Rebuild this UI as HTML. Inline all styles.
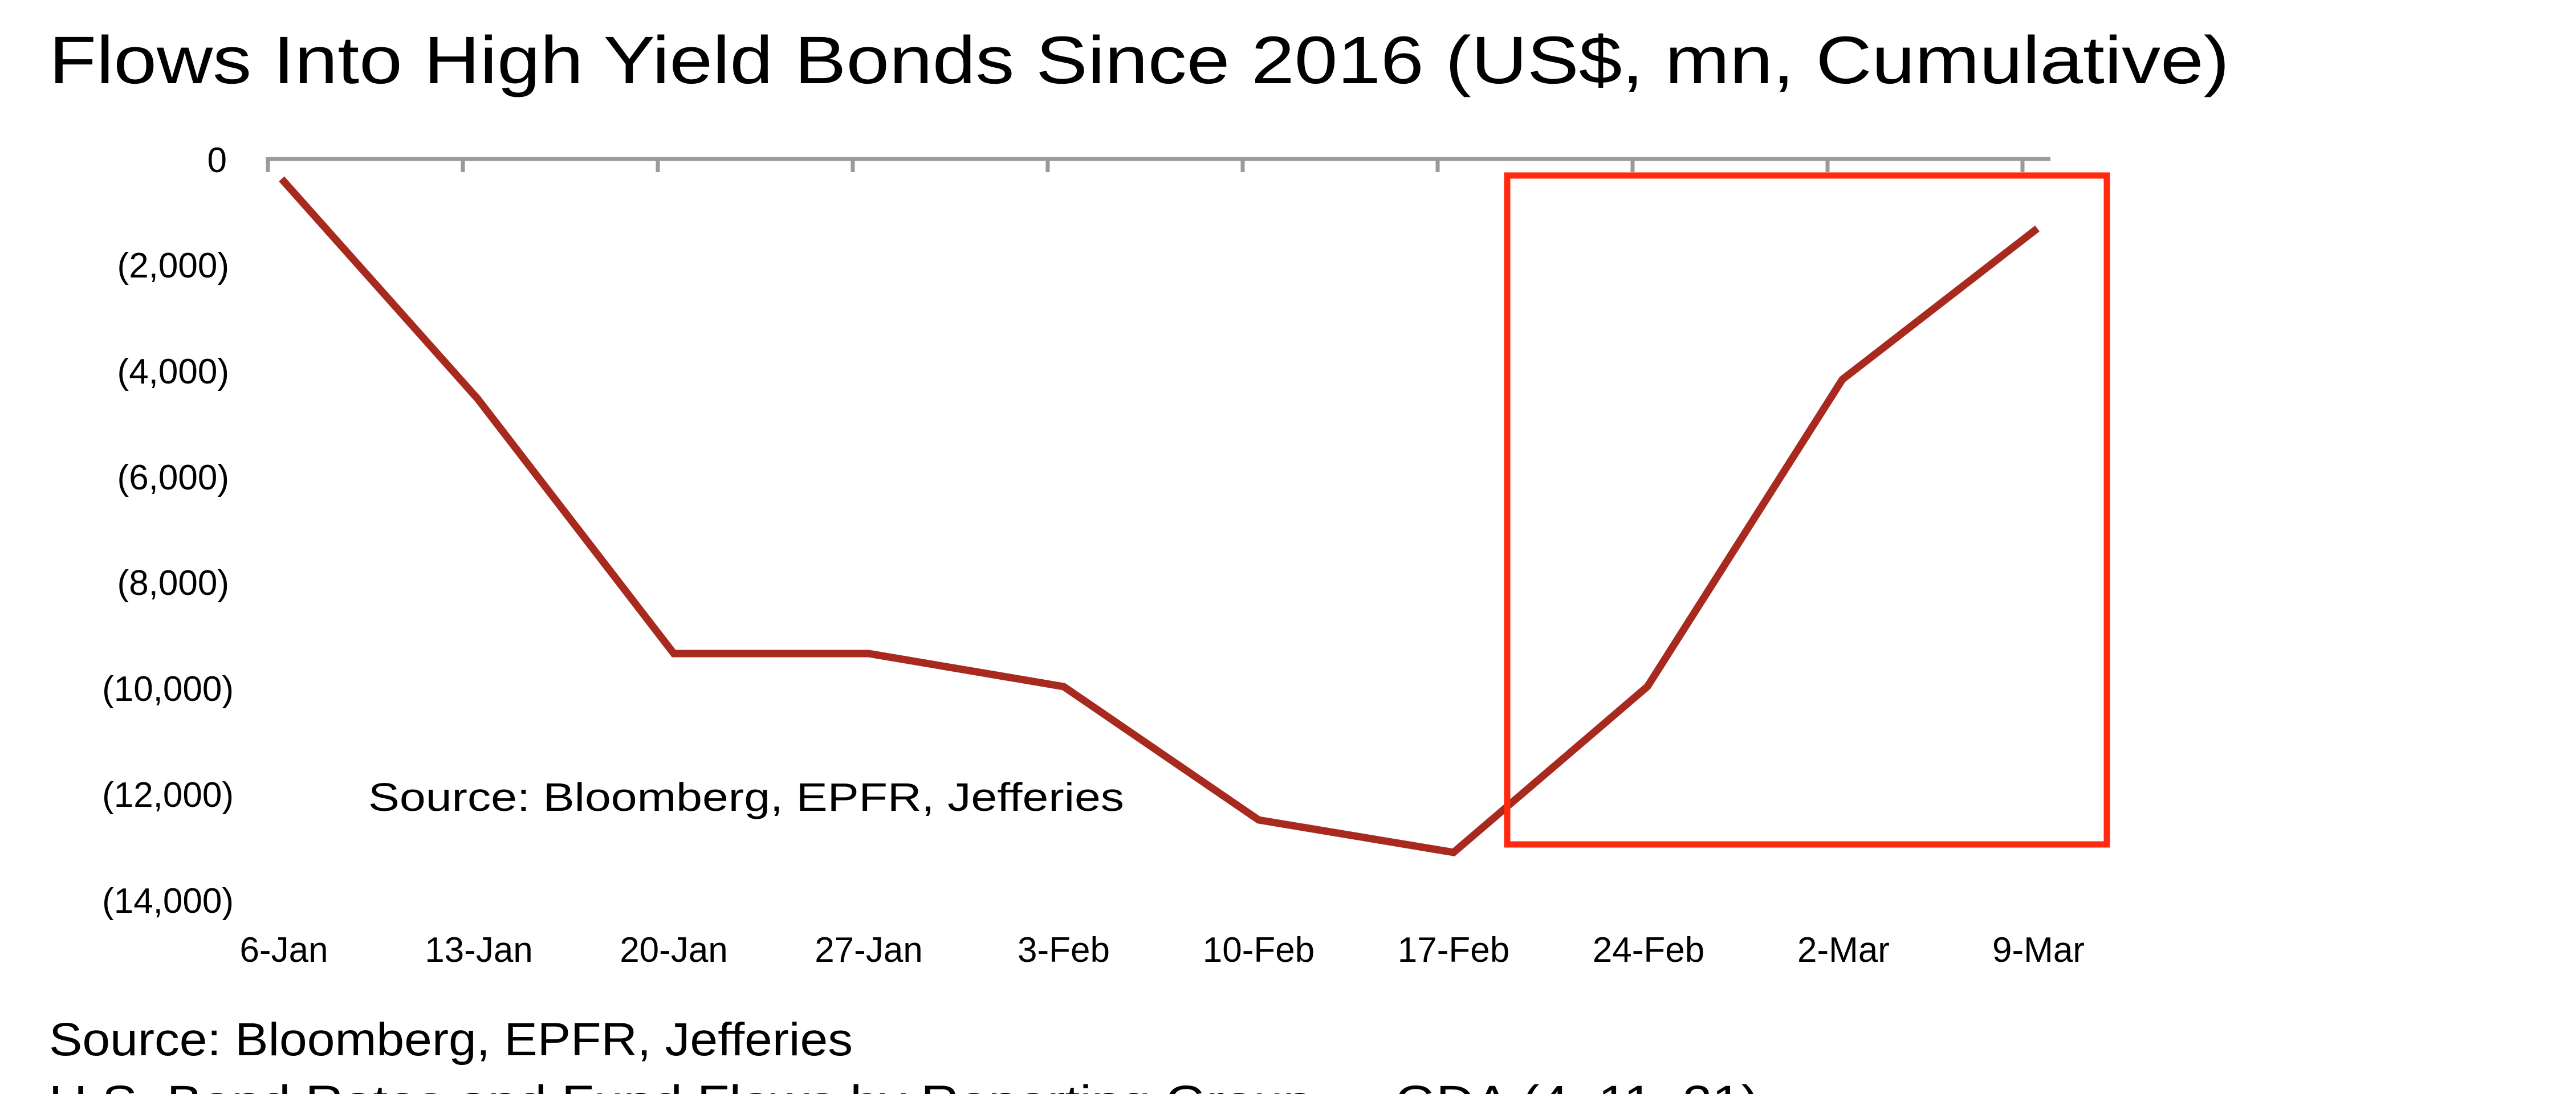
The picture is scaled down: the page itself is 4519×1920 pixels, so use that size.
<!DOCTYPE html>
<html><head><meta charset="utf-8"><style>
html,body{margin:0;padding:0;background:#fff;}
svg{display:block;}
text{font-family:"Liberation Sans",sans-serif;fill:#000;}
</style></head><body>
<svg width="4519" height="1920" viewBox="0 0 4519 1920" xmlns="http://www.w3.org/2000/svg">
<rect width="4519" height="1920" fill="#fff"/>
<text x="86" y="146" font-size="118" textLength="3825" lengthAdjust="spacingAndGlyphs">Flows Into High Yield Bonds Since 2016 (US$, mn, Cumulative)</text>
<g stroke="#9a9a9a" stroke-width="7" fill="none">
<line x1="470" y1="279" x2="3597" y2="279"/>
<line x1="470" y1="276" x2="470" y2="302"/>
<line x1="812" y1="276" x2="812" y2="302"/>
<line x1="1154" y1="276" x2="1154" y2="302"/>
<line x1="1496" y1="276" x2="1496" y2="302"/>
<line x1="1838" y1="276" x2="1838" y2="302"/>
<line x1="2180" y1="276" x2="2180" y2="302"/>
<line x1="2522" y1="276" x2="2522" y2="302"/>
<line x1="2864" y1="276" x2="2864" y2="302"/>
<line x1="3206" y1="276" x2="3206" y2="302"/>
<line x1="3548" y1="276" x2="3548" y2="302"/>
</g>
<g font-size="62" text-anchor="end">
<text x="398" y="302">0</text>
<text x="402" y="487">(2,000)</text>
<text x="402" y="673">(4,000)</text>
<text x="402" y="859">(6,000)</text>
<text x="402" y="1044">(8,000)</text>
<text x="410" y="1230">(10,000)</text>
<text x="410" y="1416">(12,000)</text>
<text x="410" y="1602">(14,000)</text>
</g>
<g font-size="62" text-anchor="middle">
<text x="498" y="1688">6-Jan</text>
<text x="840" y="1688">13-Jan</text>
<text x="1182" y="1688">20-Jan</text>
<text x="1524" y="1688">27-Jan</text>
<text x="1866" y="1688">3-Feb</text>
<text x="2208" y="1688">10-Feb</text>
<text x="2550" y="1688">17-Feb</text>
<text x="2892" y="1688">24-Feb</text>
<text x="3234" y="1688">2-Mar</text>
<text x="3576" y="1688">9-Mar</text>
</g>
<polyline fill="none" stroke="#a8291d" stroke-width="13" stroke-linejoin="miter"
 points="494,314 838,700 1182,1147 1524,1147 1866,1205 2208,1439 2550,1496 2890,1205 3232,666 3574,401"/>
<rect x="2644" y="308" width="1052" height="1174" fill="none" stroke="#ff2a10" stroke-width="11"/>
<text x="646" y="1423" font-size="70" textLength="1326" lengthAdjust="spacingAndGlyphs">Source:  Bloomberg, EPFR, Jefferies</text>
<text x="86" y="1852" font-size="82" textLength="1410" lengthAdjust="spacingAndGlyphs">Source: Bloomberg, EPFR, Jefferies</text>
<text x="86" y="1962" font-size="82" textLength="3000" lengthAdjust="spacingAndGlyphs">U.S. Bond Rates and Fund Flows by Reporting Group — GDA (4, 11, 21)</text>
</svg>
</body></html>
